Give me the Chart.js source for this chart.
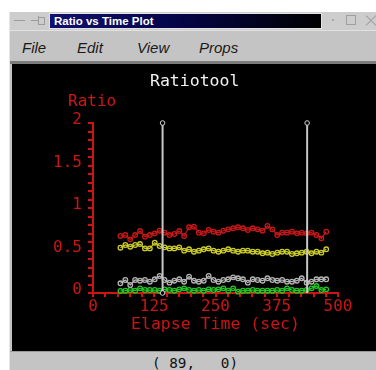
<!DOCTYPE html>
<html><head><meta charset="utf-8">
<script src="https://cdn.jsdelivr.net/npm/chart.js@4/dist/chart.umd.min.js"></script>
<style>
html,body{margin:0;padding:0;background:#fff;width:376px;height:370px;overflow:hidden;position:relative;}
.abs{position:absolute;}
#frame{left:9px;top:12px;width:367px;height:358px;background:#c4c4c4;border-left:1px solid #e6e6e6;box-sizing:border-box;}
#titlebar{left:10px;top:12px;width:366px;height:18px;background:#cdcdcd;}
#titlebox{left:49px;top:13px;width:273px;height:16px;box-sizing:border-box;border:1px solid #e4e4e4;
 background:linear-gradient(to right,#10106e 0%,#05054a 45%,#000 100%);color:#fff;
 font:bold 11.5px "Liberation Sans",Arial,sans-serif;line-height:14px;padding-left:4px;white-space:nowrap;}
.gl{background:#9c9c9c;}
#menubar{left:10px;top:30px;width:366px;height:31px;background:#c4c4c4;border-top:1px solid #e2e2e2;box-sizing:border-box;}
.menu{top:39px;font:italic 15px "Liberation Sans",Arial,sans-serif;color:#1a1a1a;line-height:17px;}
#sep{left:10px;top:61px;width:366px;height:3px;background:#7c7c7c;}
#plot{left:12px;top:64px;width:364px;height:287px;background:#000;}
#status{left:10px;top:351px;width:366px;height:19px;background:#c4c4c4;border-top:1px solid #9a9a9a;box-sizing:border-box;}
#statustext{left:152px;top:356px;font:14.3px "DejaVu Sans Mono",monospace;color:#111;line-height:15px;white-space:pre;}
#ctitle{left:150px;top:73px;font:16.5px "DejaVu Sans Mono",monospace;color:#f2f2f2;line-height:16.5px;white-space:pre;}
#ylab{left:68px;top:93px;font:16px "DejaVu Sans Mono",monospace;color:#d01515;line-height:16px;white-space:pre;}
canvas{position:absolute;left:12px;top:64px;}
</style></head>
<body>
<div id="frame" class="abs"></div>
<div id="titlebar" class="abs"></div>
<div class="abs gl" style="left:14px;top:20px;width:11px;height:1px;"></div>
<div class="abs gl" style="left:31px;top:20px;width:7px;height:1px;"></div>
<div class="abs gl" style="left:38px;top:16px;width:1px;height:9px;"></div>
<div class="abs" style="left:39px;top:17px;width:5px;height:6px;border:1px solid #9c9c9c;border-left:none;"></div>
<div id="titlebox" class="abs">Ratio vs Time Plot</div>
<div class="abs" style="left:332px;top:19px;width:2px;height:2px;background:#a8a8a8;"></div>
<div class="abs" style="left:346px;top:15px;width:10px;height:10px;border:1px solid #a0a0a0;box-sizing:border-box;"></div>
<div class="abs" style="left:364px;top:20px;width:14px;height:1px;background:#a0a0a0;transform:rotate(45deg);"></div>
<div class="abs" style="left:364px;top:20px;width:14px;height:1px;background:#a0a0a0;transform:rotate(-45deg);"></div>
<div id="menubar" class="abs"></div>
<div class="abs menu" style="left:22px;">File</div>
<div class="abs menu" style="left:77px;">Edit</div>
<div class="abs menu" style="left:137px;">View</div>
<div class="abs menu" style="left:199px;">Props</div>
<div id="sep" class="abs"></div>
<div id="plot" class="abs"></div>
<div id="status" class="abs"></div>
<div id="statustext" class="abs">( 89,   0)</div>
<canvas id="c" width="364" height="287"></canvas>
<div id="ctitle" class="abs">Ratiotool</div>
<div id="ylab" class="abs">Ratio</div>
<script>
const times = [56,66,76,86,96,106,116,126,136,146,156,166,176,186,196,206,216,226,236,246,256,266,276,286,296,306,316,326,336,346,356,366,376,386,396,406,416,426,436,446,456,466,476];
const ratioRed = [0.671,0.682,0.631,0.682,0.729,0.663,0.682,0.702,0.733,0.710,0.682,0.694,0.729,0.671,0.773,0.780,0.710,0.702,0.741,0.722,0.710,0.733,0.749,0.761,0.773,0.761,0.741,0.761,0.749,0.733,0.788,0.749,0.682,0.710,0.710,0.722,0.702,0.710,0.702,0.710,0.682,0.643,0.722];
const ratioYellow = [0.533,0.565,0.545,0.565,0.576,0.525,0.525,0.592,0.553,0.537,0.525,0.525,0.537,0.498,0.514,0.486,0.498,0.514,0.525,0.498,0.486,0.498,0.514,0.498,0.486,0.498,0.498,0.486,0.486,0.467,0.475,0.459,0.475,0.486,0.486,0.459,0.467,0.475,0.486,0.467,0.486,0.475,0.514];
const ratioGray = [0.114,0.153,0.094,0.153,0.145,0.153,0.133,0.161,0.200,0.153,0.122,0.145,0.161,0.133,0.192,0.145,0.133,0.145,0.200,0.153,0.133,0.153,0.161,0.184,0.173,0.161,0.122,0.161,0.153,0.145,0.173,0.153,0.145,0.153,0.133,0.133,0.145,0.173,0.122,0.133,0.161,0.161,0.161];
const ratioGreen = [0.024,0.027,0.035,0.027,0.055,0.035,0.035,0.035,0.027,0.043,0.035,0.027,0.043,0.055,0.035,0.027,0.035,0.027,0.043,0.035,0.043,0.055,0.027,0.055,0.016,0.027,0.027,0.035,0.027,0.027,0.027,0.027,0.035,0.027,0.055,0.035,0.027,0.027,0.035,0.055,0.082,0.035,0.043];
const cursorTimes = [142, 437];
const xTickLabels = ['0','125','250','375','500'];
const yTickLabels = ['0','0.5','1','1.5','2'];

const RED = '#cc1414';
const FONT = {family:'DejaVu Sans Mono', size:16};

function series(vals, color){
  return {
    data: times.map((t,i)=>({x:t, y:vals[i]})),
    borderColor: color, borderWidth: 1.2,
    pointRadius: 2.3, pointBorderWidth: 1.3,
    pointBorderColor: color, pointBackgroundColor: 'rgba(0,0,0,0)',
    tension: 0, order: 2, clip: false
  };
}
const cursorSets = cursorTimes.map((t,k)=>({
  data: [{x:t, y:0}, {x:t, y:2}],
  borderColor: '#c6c6c6', borderWidth: 2,
  pointRadius: k === 0 ? [2.3, 2.3] : [0, 2.3],
  pointBorderWidth: 1, pointBorderColor: '#d0d0d0', pointBackgroundColor: '#000',
  order: 0, clip: false
}));

new Chart(document.getElementById('c'), {
  type: 'line',
  data: {
    datasets: [
      ...cursorSets,
      series(ratioRed, '#c81818'),
      series(ratioYellow, '#cccc2a'),
      series(ratioGray, '#b4b4b4'),
      series(ratioGreen, '#22c822')
    ]
  },
  options: {
    responsive: false, animation: false, devicePixelRatio: 1,
    layout: {padding: {left: 0, top: 59, right: 38, bottom: 0}},
    plugins: {legend: {display: false}, tooltip: {enabled: false}},
    scales: {
      x: {
        type: 'linear', min: 0, max: 500,
        ticks: {
          stepSize: 25, autoSkip: false, maxRotation: 0, color: RED, font: FONT, padding: 0,
          callback: v => (Math.abs(v % 125) < 1e-6 ? xTickLabels[Math.round(v/125)] : '')
        },
        grid: {drawOnChartArea: false, drawTicks: true, tickLength: 4, color: RED, lineWidth: 2},
        border: {display: true, color: RED, width: 2},
        title: {display: true, text: 'Elapse Time (sec)', color: RED,
                font: {family:'DejaVu Sans Mono', size:16.5}, padding: {top: 0, bottom: 16}},
        afterFit(s){ s.height = 58; }
      },
      y: {
        type: 'linear', min: 0, max: 2,
        ticks: {
          stepSize: 0.1, autoSkip: false, color: RED, font: FONT, padding: 6, labelOffset: -3,
          callback: v => (Math.abs(v*2 - Math.round(v*2)) < 1e-6 ? yTickLabels[Math.round(v*2)] : '')
        },
        grid: {drawOnChartArea: false, drawTicks: true, tickLength: 5, color: RED, lineWidth: 2},
        border: {display: true, color: RED, width: 2},
        afterFit(s){ s.width = 81; }
      }
    }
  }
});
</script>
</body></html>
